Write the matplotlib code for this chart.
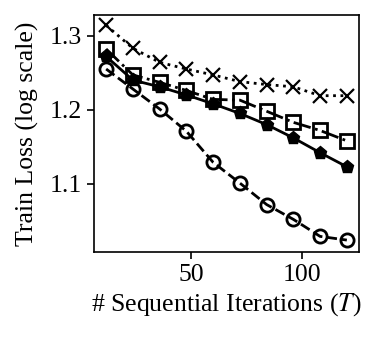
import matplotlib
matplotlib.use("Agg")
import matplotlib.pyplot as plt

plt.rcParams['font.family'] = ['Liberation Serif', 'DejaVu Serif']
plt.rcParams['mathtext.fontset'] = 'stix'

iters = [12, 24, 36, 48, 60, 72, 84, 96, 108, 120]
loss_cross = [1.314, 1.283, 1.264, 1.255, 1.247, 1.238, 1.234, 1.231, 1.219, 1.219]
loss_square = [1.282, 1.247, 1.237, 1.226, 1.214, 1.213, 1.198, 1.183, 1.172, 1.158]
loss_pent = [1.272, 1.240, 1.231, 1.220, 1.208, 1.195, 1.180, 1.162, 1.142, 1.123]
loss_circle = [1.255, 1.228, 1.201, 1.171, 1.129, 1.101, 1.072, 1.052, 1.029, 1.024]

fig = plt.figure(figsize=(3.75, 3.4), dpi=100)
ax = fig.add_axes([0.251, 0.259, 0.706, 0.697])

ax.plot(iters, loss_cross, ':', color='black', lw=2, marker='x', ms=9.5, mew=1.6)
ax.plot(iters, loss_square, '-.', color='black', lw=2, marker='s', ms=9.5, mew=2, mfc='none')
ax.plot(iters, loss_pent, '-', color='black', lw=2, marker='p', ms=9.5, mew=1.0)
ax.plot(iters, loss_circle, '--', color='black', lw=2, marker='o', ms=9.5, mew=2, mfc='none')

ax.set_ylim(1.008, 1.328)
ax.set_xticks([50, 100])
ax.set_yticks([1.1, 1.2, 1.3])
ax.tick_params(labelsize=18.5, width=1.2, length=5)
for s in ax.spines.values():
    s.set_linewidth(1.2)

ax.set_xlabel('# Sequential Iterations ($T$)', fontsize=18.5)
ax.set_ylabel('Train Loss (log scale)', fontsize=18.5, labelpad=8)

fig.savefig('out.png', dpi=100)
